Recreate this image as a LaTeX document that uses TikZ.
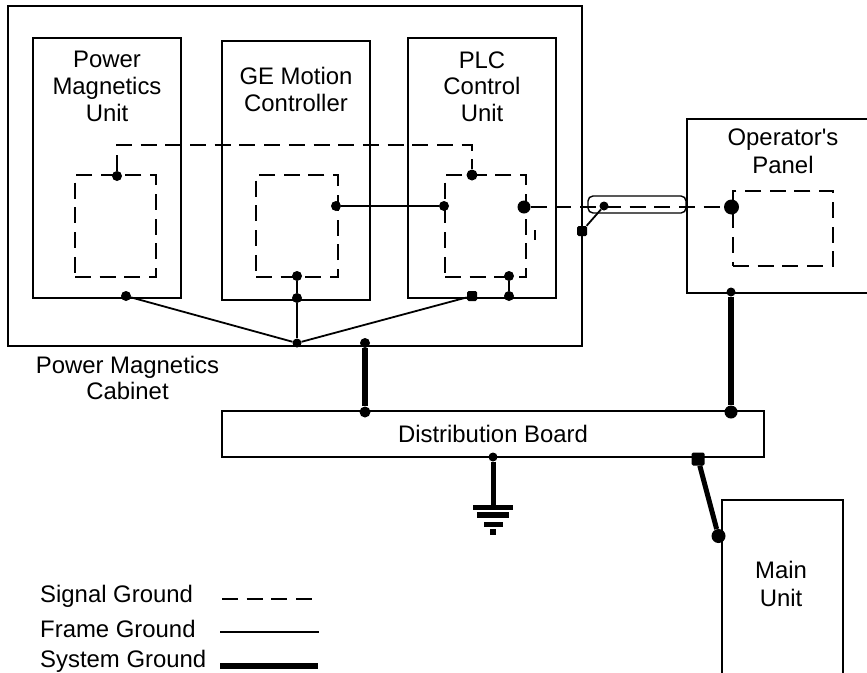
\documentclass[tikz,border=0pt]{standalone}
\usepackage{fontspec}
\setmainfont{Liberation Sans}
\usetikzlibrary{positioning}

\begin{document}
\begin{tikzpicture}[
    x=1pt, y=-1pt,
    node distance=12pt and 10pt,
    box/.style={rectangle, draw=black, line width=1.6pt, inner sep=0pt},
    sigbox/.style={rectangle, draw=black, line width=1.6pt, dash pattern=on 16pt off 8.7pt, inner sep=0pt},
    lbl/.style={font=\fontsize{23.9}{26.7}\selectfont, align=center, inner sep=0pt},
    dot/.style={circle, fill=black, inner sep=0pt, minimum size=10pt},
    sdot/.style={rectangle, rounded corners=1.5pt, fill=black, inner sep=0pt, minimum size=10pt},
    signal/.style={line width=1.6pt, dash pattern=on 16pt off 8.7pt},
    frame/.style={line width=1.8pt},
    sysline/.style={line width=6pt},
    gbar/.style={fill=black, inner sep=0pt, minimum height=5.5pt},
]
\useasboundingbox (0,0) rectangle (867,672);

% === Power Magnetics Cabinet ===
\node[box, minimum width=574pt, minimum height=340pt] (cabinet) at (295,176) {};
\node[lbl] (cabinetlbl) at (127.5,378) {Power Magnetics\\Cabinet};

% === Units ===
\node[box, minimum width=148pt, minimum height=260pt] (pmu) at (107,168) {};
\node[box, minimum width=148pt, minimum height=259pt] (gemc) at (296,170.5) {};
\node[box, minimum width=148pt, minimum height=260pt] (plc) at (482,168) {};
\node[lbl, below=14pt of pmu.north] (pmulbl) {Power\\Magnetics\\Unit};
\node[lbl, below=27pt of gemc.north] (gemclbl) {GE Motion\\Controller};
\node[lbl, below=14pt of plc.north] (plclbl) {PLC\\Control\\Unit};

% Signal ground boxes
\node[sigbox, minimum width=81pt, minimum height=102pt] (pmusig) at (115.5,226) {};
\node[sigbox, minimum width=82pt, minimum height=102pt] (gemcsig) at (297,226) {};
\node[sigbox, minimum width=81pt, minimum height=102pt] (plcsig) at (485.5,226) {};

% === Operator's Panel ===
\node[box, minimum width=186pt, minimum height=174pt] (panel) at (780,206) {};
\node[lbl] (panellbl) at (783,151) {Operator\textquotesingle s\\[1pt]Panel};
\node[sigbox, minimum width=100pt, minimum height=75pt] (panelsig) at (783,228.5) {};

% === Distribution Board ===
\node[box, minimum width=542pt, minimum height=46pt, font=\fontsize{23.9}{26.7}\selectfont] (board) at (493,434) {Distribution Board};

% === Main Unit ===
\node[box, minimum width=121pt, minimum height=180pt] (mainunit) at (782.5,590) {};
\node[lbl] (mainlbl) at (781,584) {Main\\[1pt]Unit};

% === Cable ===
\node[rectangle, draw=black, line width=1.4pt, rounded corners=5pt, inner sep=0pt,
      minimum width=98pt, minimum height=17pt] (cable) at (637,204.5) {};

% === Dots ===
\node[dot, minimum size=10pt] (pmutop) at (117,176) {};
\node[dot, minimum size=11pt] (plctop) at (472,175) {};
\node[dot, minimum size=10pt] (gemcout) at (336,206) {};
\node[dot, minimum size=10pt] (plcin) at (444,206) {};
\node[dot, minimum size=13pt] (plcout) at (524,207) {};
\node[dot, minimum size=9pt] (cabledot) at (604,206) {};
\node[sdot, minimum size=10pt] (cabinetdot) at (582,231) {};
\node[dot, minimum size=15pt] (paneldot) at (731.5,207) {};
\node[dot, minimum size=10pt] (pmubot) at (126,296) {};
\node[dot, minimum size=10pt] (gemcsigbot) at (297,276) {};
\node[dot, minimum size=10pt] (gemcbot) at (297,298) {};
\node[dot, minimum size=10pt] (plcsigbot) at (509,276) {};
\node[dot, minimum size=10pt] (plcbot) at (509,296) {};
\node[sdot, minimum size=10pt] (plcbot2) at (472,296) {};
\node[dot, minimum size=9pt] (hub) at (297,343) {};
\node[dot, minimum size=10pt] (cabinetsys) at (365,343) {};
\node[dot, minimum size=11pt] (boardsys) at (365,412) {};
\node[dot, minimum size=9pt] (panelsys) at (731,292) {};
\node[dot, minimum size=13pt] (boardsys2) at (731,412) {};
\node[dot, minimum size=9pt] (boardgnd) at (493,457) {};
\node[sdot, minimum size=13pt] (boardmain) at (698,459) {};
\node[dot, minimum size=14pt] (maindot) at (718.5,536) {};

% === Ground symbol ===
\node[gbar, minimum width=40pt] (gnd1) at (493,507.5) {};
\node[gbar, minimum width=32pt] (gnd2) at (493,515) {};
\node[gbar, minimum width=19pt] (gnd3) at (493,524.5) {};
\node[gbar, minimum width=6pt] (gnd4) at (493,532) {};

% === Signal ground ===
\coordinate (sigtop) at (295,145);
\draw[signal] (pmutop) |- (sigtop) -| (plctop);
\draw[signal] (plcout) -- (paneldot);
\coordinate (ticktop) at (535,230);
\coordinate (tickbot) at (535,240);
\draw[frame] (ticktop) -- (tickbot);

% === Frame ground ===
\draw[frame] (gemcout) -- (plcin);
\draw[frame] (cabledot) -- (cabinetdot);
\draw[frame] (gemcsigbot) -- (gemcbot);
\draw[frame] (gemcbot) -- (hub);
\draw[frame] (plcsigbot) -- (plcbot);
\draw[frame] (pmubot) -- (hub);
\draw[frame] (plcbot2) -- (hub);

% === System ground ===
\draw[sysline] (cabinetsys) -- (boardsys);
\draw[sysline] (panelsys) -- (boardsys2);
\draw[sysline, line width=5pt] (boardgnd) -- (gnd1);
\draw[sysline, line width=5pt] (boardmain) -- (maindot);

% === Legend ===
\node[lbl, anchor=base west] (siglbl) at (40,602) {Signal Ground};
\node[lbl, anchor=base west] (framelbl) at (40,637) {Frame Ground};
\node[lbl, anchor=base west] (syslbl) at (40,667) {System Ground};
\coordinate (siga) at (222,599);
\coordinate (sigb) at (312,599);
\coordinate (framea) at (220,632);
\coordinate (frameb) at (319,632);
\coordinate (sysa) at (220,666);
\coordinate (sysb) at (318,666);
\draw[signal] (siga) -- (sigb);
\draw[frame] (framea) -- (frameb);
\draw[sysline, line width=6.5pt] (sysa) -- (sysb);

\end{tikzpicture}
\end{document}
